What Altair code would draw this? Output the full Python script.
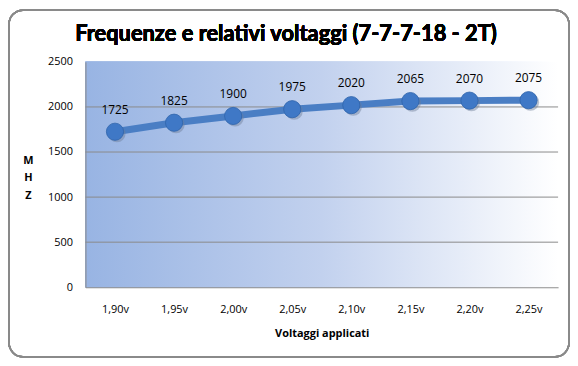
import altair as alt
import pandas as pd

voltaggi = ["1,90v", "1,95v", "2,00v", "2,05v", "2,10v", "2,15v", "2,20v", "2,25v"]
mhz = [1725, 1825, 1900, 1975, 2020, 2065, 2070, 2075]
y_ticks = [0, 500, 1000, 1500, 2000, 2500]
grid_vals = [500, 1000, 1500, 2000]
titolo = "Frequenze e relativi voltaggi (7-7-7-18 - 2T)"

df = pd.DataFrame({"v": voltaggi, "mhz": mhz})
gdf = pd.DataFrame({"g": grid_vals})

W, H = 476, 227
FONT = "Open Sans"

xaxis = alt.Axis(title="Voltaggi applicati", labelAngle=0, ticks=False,
                 labelPadding=16, titlePadding=14, domainColor="#8c8c8c",
                 labelFontSize=11, titleFontSize=11, titleFontWeight="bold",
                 labelColor="#000", titleColor="#000", grid=False, zindex=1)
xscale = alt.Scale(paddingInner=0, paddingOuter=0)
x = alt.X("v:N", sort=voltaggi, scale=xscale, axis=xaxis)

yaxis = alt.Axis(title=["M", "H", "Z"], titleAngle=0, titleAlign="center",
                 titleBaseline="middle", titleX=-58, titleY=99,
                 titleLineHeight=18, format="d",
                 values=y_ticks, ticks=False, grid=False, zindex=1,
                 labelPadding=13, domainColor="#8c8c8c",
                 labelFontSize=11, titleFontSize=11, titleFontWeight="bold",
                 labelColor="#000", titleColor="#000")
yscale = alt.Scale(domain=[0, 2500], nice=False, zero=True)
y = alt.Y("mhz:Q", scale=yscale, axis=yaxis)

bg = alt.Chart(df).mark_rect(
    fill=alt.Gradient(gradient="linear", x1=0, y1=0, x2=1, y2=0,
                      stops=[alt.GradientStop(color="#98b4e3", offset=0),
                             alt.GradientStop(color="#c2d1ee", offset=0.5),
                             alt.GradientStop(color="#ffffff", offset=1)])
).encode(x=alt.value(0), x2=alt.value(W), y=alt.value(0), y2=alt.value(H))

grid = alt.Chart(gdf).mark_rule(color="#8a8a8a", strokeWidth=1).encode(
    y=alt.Y("g:Q", scale=yscale, axis=yaxis), x=alt.value(0), x2=alt.value(W))

border = alt.Chart(df).mark_rect(
    fill=None, stroke="#8a8a8a", strokeWidth=1.5, cornerRadius=14, clip=False
).encode(x=alt.value(-77), x2=alt.value(W + 11), y=alt.value(-52), y2=alt.value(H + 70))

title = alt.Chart(df).mark_text(
    text=titolo, font="Lato", fontSize=22, fontWeight="bold", color="#000",
    align="center", baseline="alphabetic"
).encode(x=alt.value(202), y=alt.value(-21))

line = alt.Chart(df).mark_line(color="#4a7ec4", strokeWidth=7).encode(x=x, y=y)

shadow = alt.Chart(df).mark_circle(size=300, color="#6f7f99", opacity=0.45,
                                   xOffset=2, yOffset=2).encode(x=x, y=y)

pts = alt.Chart(df).mark_circle(size=300, color="#3f78c6", opacity=1,
                                stroke="#2f64ab", strokeWidth=0.8).encode(x=x, y=y)

labels = alt.Chart(df).mark_text(dy=-22, fontSize=12, font=FONT, color="#000").encode(
    x=x, y=y, text="mhz:Q")

chart = alt.layer(bg, grid, border, title, line, shadow, pts, labels).properties(
    width=W, height=H,
    autosize=alt.AutoSizeParams(type="none"),
    padding={"left": 78, "top": 53, "right": 12, "bottom": 70},
).configure_view(stroke=None).configure_axis(labelFont=FONT, titleFont=FONT)

chart.save("out.html", embed_options={"renderer": "svg", "actions": False})
